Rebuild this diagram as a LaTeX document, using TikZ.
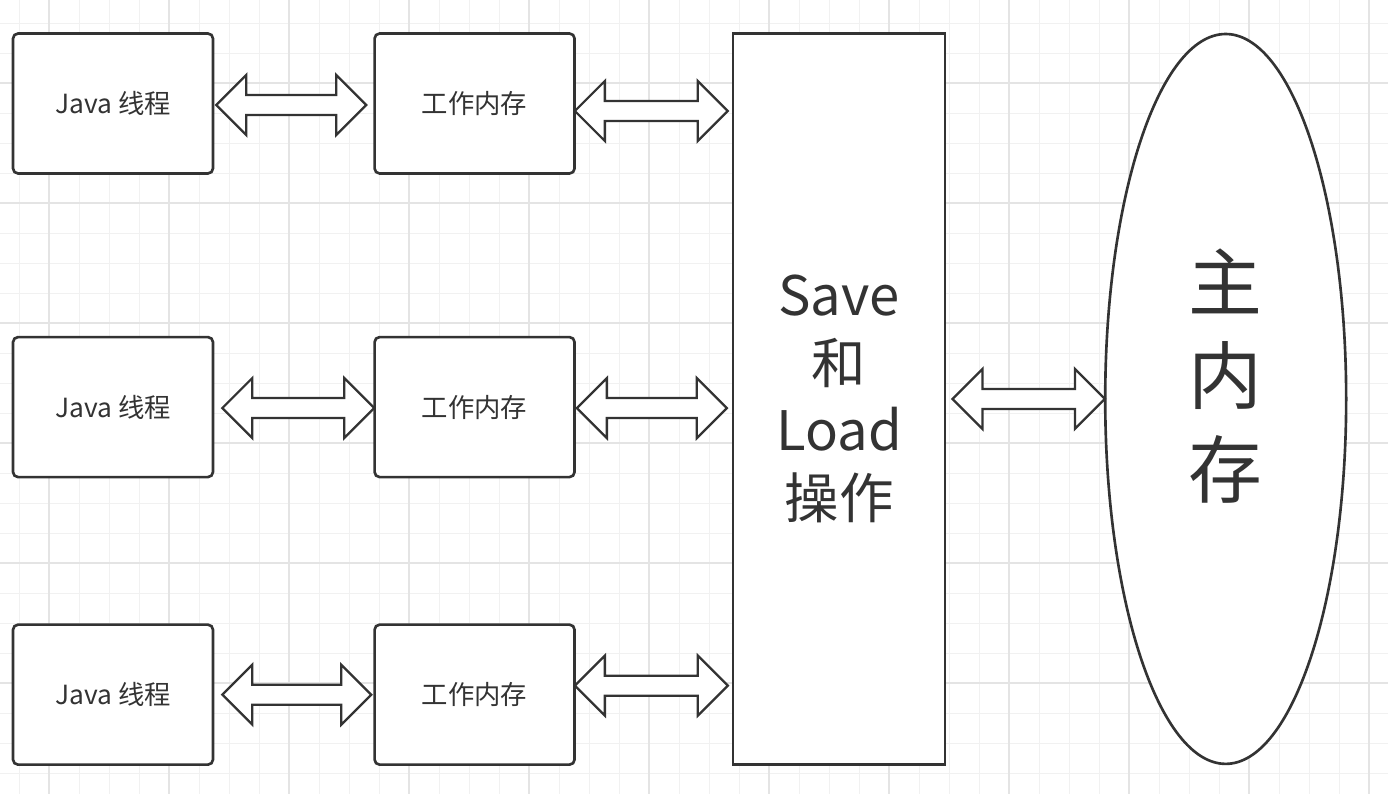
\documentclass[tikz,border=0pt]{standalone}
\usepackage{fontspec}
\setmainfont{Noto Sans CJK SC}
\usepackage{xcolor}
\definecolor{inkgrey}{RGB}{51,51,51}
\definecolor{gridlight}{RGB}{241,241,241}
\definecolor{griddark}{RGB}{228,228,228}
\usepackage{tikz}
\usetikzlibrary{positioning,calc,shapes.geometric}

% hollow double arrow, tips at #1 and #2 (height taken from #1)
\newcommand\dblarrow[2]{%
  \draw[blockarrow] let \p1=#1, \p2=#2 in
    (\x1,\y1) -- ({\x1+0.6cm},{\y1+0.6cm}) -- ({\x1+0.6cm},{\y1+0.2cm})
    -- ({\x2-0.6cm},{\y1+0.2cm}) -- ({\x2-0.6cm},{\y1+0.6cm}) -- (\x2,\y1)
    -- ({\x2-0.6cm},{\y1-0.6cm}) -- ({\x2-0.6cm},{\y1-0.2cm})
    -- ({\x1+0.6cm},{\y1-0.2cm}) -- ({\x1+0.6cm},{\y1-0.6cm}) -- cycle;
}

\begin{document}
\begin{tikzpicture}[
    x=0.02cm, y=-0.02cm,
    gridline/.style={draw=gridlight, line width=0.55pt},
    gridmajor/.style={draw=griddark, line width=0.8pt},
    block/.style={rectangle, draw=inkgrey, line width=1.5pt, rounded corners=0.1cm, fill=white, minimum width=4cm, minimum height=2.8cm, text=inkgrey, font=\fontsize{15}{18}\selectfont},
    opbox/.style={rectangle, draw=inkgrey, line width=1.5pt, fill=white, minimum width=4.24cm, minimum height=14.62cm, align=center, text=inkgrey, font=\fontsize{31}{38.5}\selectfont},
    mainmem/.style={ellipse, draw=inkgrey, line width=1.5pt, fill=white, inner sep=0pt, minimum width=4.82cm, minimum height=14.6cm},
    bigtext/.style={align=center, text=inkgrey, font=\fontsize{42}{53}\selectfont},
    blockarrow/.style={draw=inkgrey, line width=1.3pt, fill=white, line join=miter}
  ]
    % Background grid
    \fill[white] (0,0) rectangle (1388,794);
    \useasboundingbox (0,0) rectangle (1388,794);
    \foreach \x in {19,49,...,1369} \draw[gridline] (\x,0) -- (\x,794);
    \foreach \y in {23,53,...,773} \draw[gridline] (0,\y) -- (1388,\y);
    \foreach \x in {49,169,...,1369} \draw[gridmajor] (\x,0) -- (\x,794);
    \foreach \y in {83,203,...,683} \draw[gridmajor] (0,\y) -- (1388,\y);

    % Nodes - threads and their working memory
    \node [block] (thread1) at (113,103.5) {Java 线程};
    \node [block, below=3.22cm of thread1] (thread2) {Java 线程};
    \node [block, below=2.90cm of thread2] (thread3) {Java 线程};
    \node [block, right=3.18cm of thread1] (work1) {工作内存};
    \node [block, right=3.18cm of thread2] (work2) {工作内存};
    \node [block, right=3.18cm of thread3] (work3) {工作内存};

    % Save / Load and main memory
    \node [opbox, anchor=north west] (saveload) at ([xshift=3.12cm]work1.north east) {Save\\和\\Load\\操作};
    \node [mainmem, right=3.15cm of saveload] (mainmem) {};
    \node [bigtext] (memtext) at ([yshift=0.46cm]mainmem.center) {主\\内\\存};

    % Arrows
    \dblarrow{([shift={(2,1.5)}]thread1.east)}{([shift={(-7,0)}]work1.west)}
    \dblarrow{([shift={(-1,7.5)}]work1.east)}{([shift={(-4,0)}]saveload.west)}
    \dblarrow{([shift={(8,1)}]thread2.east)}{([shift={(1,0)}]work2.west)}
    \dblarrow{([shift={(1,1)}]work2.east)}{([shift={(-5,0)}]saveload.west)}
    \dblarrow{([shift={(8,0)}]thread3.east)}{([shift={(-2,0)}]work3.west)}
    \dblarrow{([shift={(-1,-9)}]work3.east)}{([shift={(-4,0)}]saveload.west)}
    \dblarrow{([shift={(6,0)}]saveload.east)}{([shift={(1,0)}]mainmem.west)}

\end{tikzpicture}
\end{document}
